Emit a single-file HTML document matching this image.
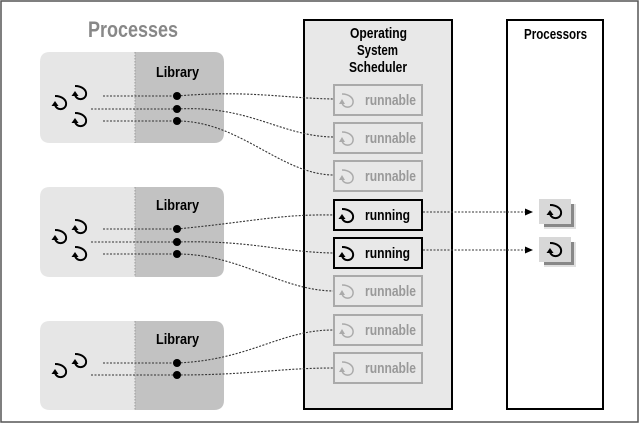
<!DOCTYPE html>
<html><head><meta charset="utf-8"><style>
html,body{margin:0;padding:0;background:#fff}
svg{display:block}
text{font-family:"Liberation Sans Narrow","Liberation Sans",sans-serif;font-weight:bold}
</style></head><body>
<svg width="640" height="423" viewBox="0 0 640 423" xmlns="http://www.w3.org/2000/svg">
<defs>
<g id="th">
<path d="M-5,-8 C2,-8 7,-4 6,1 C5,6 -3,7 -5,1" fill="none" stroke="#000" stroke-width="2"/>
<path d="M-5,-8 C-1,-8 3,-7 5,-4" fill="none" stroke="#000" stroke-width="0.8"/>
<path d="M-8.5,2 L-5,-3 L-1.5,2 Z" fill="#000"/>
</g>
<g id="thg">
<path d="M-5,-8 C2,-8 7,-4 6,1 C5,6 -3,7 -5,1" fill="none" stroke="#aaa" stroke-width="1.5"/>
<path d="M-8,2 L-5,-3 L-2,2 Z" fill="#aaa"/>
</g>
<marker id="ar" markerWidth="8" markerHeight="8" refX="7" refY="4" orient="auto" markerUnits="userSpaceOnUse"><path d="M0,0.5 L8,4 L0,7.5 Z" fill="#000"/></marker>
</defs>
<rect x="1" y="1" width="637" height="421" fill="#fff" stroke="#555" stroke-width="1.5"/>
<text x="88" y="37" font-size="22" fill="#888" textLength="90" lengthAdjust="spacingAndGlyphs">Processes</text>

<g>
<path d="M50,52 H135 V143 H50 Q40,143 40,133 V62 Q40,52 50,52Z" fill="#e6e6e6"/>
<path d="M135,52 H214 Q224,52 224,62 V133 Q224,143 214,143 H135Z" fill="#c2c2c2"/>
<path d="M50,187 H135 V277 H50 Q40,277 40,267 V197 Q40,187 50,187Z" fill="#e6e6e6"/>
<path d="M135,187 H214 Q224,187 224,197 V267 Q224,277 214,277 H135Z" fill="#c2c2c2"/>
<path d="M50,321 H135 V410 H50 Q40,410 40,400 V331 Q40,321 50,321Z" fill="#e6e6e6"/>
<path d="M135,321 H214 Q224,321 224,331 V400 Q224,410 214,410 H135Z" fill="#c2c2c2"/>
<g stroke="#999" stroke-width="1" stroke-dasharray="1.5,1.5">
<line x1="135" y1="52" x2="135" y2="143"/><line x1="135" y1="187" x2="135" y2="277"/><line x1="135" y1="321" x2="135" y2="410"/>
</g>
<text x="156" y="77" font-size="15" textLength="43" lengthAdjust="spacingAndGlyphs">Library</text>
<text x="156" y="210" font-size="15" textLength="43" lengthAdjust="spacingAndGlyphs">Library</text>
<text x="156" y="344" font-size="15" textLength="43" lengthAdjust="spacingAndGlyphs">Library</text>
</g>

<use href="#th" x="60" y="104"/><use href="#th" x="80" y="94"/><use href="#th" x="80" y="121"/>
<use href="#th" x="60" y="238"/><use href="#th" x="80" y="228"/><use href="#th" x="80" y="255"/>
<use href="#th" x="60" y="372"/><use href="#th" x="80" y="362"/>

<rect x="304" y="20" width="148" height="389" fill="#e8e8e8" stroke="#000" stroke-width="2"/>
<text x="350" y="38" font-size="15" textLength="57" lengthAdjust="spacingAndGlyphs">Operating</text>
<text x="357" y="55" font-size="15" textLength="41" lengthAdjust="spacingAndGlyphs">System</text>
<text x="349" y="72" font-size="15" textLength="58" lengthAdjust="spacingAndGlyphs">Scheduler</text>
<rect x="507" y="20" width="96" height="389" fill="#fff" stroke="#000" stroke-width="2"/>
<text x="524" y="39" font-size="15" textLength="63" lengthAdjust="spacingAndGlyphs">Processors</text>

<g fill="none" stroke="#333" stroke-width="1.1" stroke-dasharray="2,1.5">
<line x1="103" y1="96" x2="177" y2="96"/><line x1="91" y1="109" x2="177" y2="109"/><line x1="103" y1="121" x2="177" y2="121"/>
<line x1="103" y1="229" x2="177" y2="229"/><line x1="91" y1="242" x2="177" y2="242"/><line x1="103" y1="254" x2="177" y2="254"/>
<line x1="103" y1="363" x2="177" y2="363"/><line x1="91" y1="375" x2="177" y2="375"/>
<path d="M177,96 C250,90 280,98 333,99"/>
<path d="M177,109 C250,105 280,136 333,137"/>
<path d="M177,121 C240,121 280,174 333,175"/>
<path d="M177,229 C250,222 280,214 333,215"/>
<path d="M177,242 C250,240 280,252 333,253"/>
<path d="M177,254 C240,254 280,290 333,291"/>
<path d="M177,363 C250,360 280,330 333,330"/>
<path d="M177,375 C250,375 280,368 333,368"/>
<line x1="423" y1="212" x2="532" y2="212" marker-end="url(#ar)"/>
<line x1="423" y1="250" x2="532" y2="250" marker-end="url(#ar)"/>
</g>
<g fill="#000"><circle cx="177" cy="96" r="4"/><circle cx="177" cy="109" r="4"/><circle cx="177" cy="121" r="4"/>
<circle cx="177" cy="229" r="4"/><circle cx="177" cy="242" r="4"/><circle cx="177" cy="254" r="4"/>
<circle cx="177" cy="363" r="4"/><circle cx="177" cy="375" r="4"/></g>

<g fill="#e8e8e8" stroke="#aaa" stroke-width="2">
<rect x="334" y="85" width="88" height="30"/><rect x="334" y="123" width="88" height="30"/><rect x="334" y="161" width="88" height="30"/>
<rect x="334" y="276" width="88" height="30"/><rect x="334" y="315" width="88" height="30"/><rect x="334" y="353" width="88" height="30"/>
</g>
<g fill="#e8e8e8" stroke="#000" stroke-width="2">
<rect x="334" y="200" width="88" height="30"/><rect x="334" y="238" width="88" height="30"/>
</g>
<g font-size="15" fill="#999">
<text x="365" y="105" textLength="51" lengthAdjust="spacingAndGlyphs">runnable</text>
<text x="365" y="143" textLength="51" lengthAdjust="spacingAndGlyphs">runnable</text>
<text x="365" y="181" textLength="51" lengthAdjust="spacingAndGlyphs">runnable</text>
<text x="365" y="296" textLength="51" lengthAdjust="spacingAndGlyphs">runnable</text>
<text x="365" y="335" textLength="51" lengthAdjust="spacingAndGlyphs">runnable</text>
<text x="365" y="373" textLength="51" lengthAdjust="spacingAndGlyphs">runnable</text>
</g>
<g font-size="15" fill="#000">
<text x="365" y="220" textLength="45" lengthAdjust="spacingAndGlyphs">running</text>
<text x="365" y="258" textLength="45" lengthAdjust="spacingAndGlyphs">running</text>
</g>
<use href="#thg" x="347" y="102"/><use href="#thg" x="347" y="140"/><use href="#thg" x="347" y="178"/>
<use href="#thg" x="347" y="293"/><use href="#thg" x="347" y="332"/><use href="#thg" x="347" y="370"/>
<use href="#th" x="347" y="217"/><use href="#th" x="347" y="255"/>

<rect x="544" y="204" width="32" height="25" fill="#e0e0e0"/><rect x="544" y="204" width="30" height="23" fill="#888"/>
<rect x="539" y="199" width="32" height="25" fill="#d8d8d8"/>
<rect x="544" y="242" width="32" height="25" fill="#e0e0e0"/><rect x="544" y="242" width="30" height="23" fill="#888"/>
<rect x="539" y="237" width="32" height="25" fill="#d8d8d8"/>
<use href="#th" x="555" y="213"/><use href="#th" x="555" y="251"/>
</svg>
</body></html>
